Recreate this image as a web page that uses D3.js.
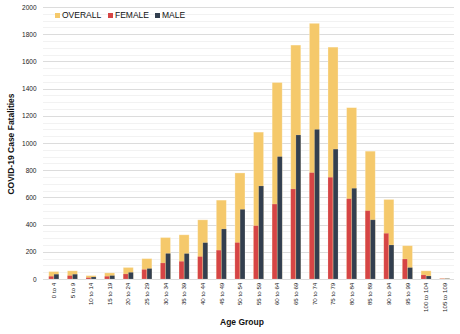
<!DOCTYPE html>
<html>
<head>
<meta charset="utf-8">
<script src="https://cdn.jsdelivr.net/npm/d3@7/dist/d3.min.js"></script>
<style>
  body {
    margin: 0;
    background: #ffffff;
  }

  text {
    font-family: 'Liberation Sans', Arial, sans-serif;
    fill: #111111;
  }

  .grid-major line {
    stroke: #dcdcdc;
    shape-rendering: crispEdges;
  }

  .grid-minor line {
    stroke: #f2f2f2;
    shape-rendering: crispEdges;
  }

  .grid-major path,
  .grid-minor path,
  .axis path,
  .axis line {
    stroke: none;
  }

  .y-axis text {
    font-size: 6.5px;
    fill: #222222;
  }

  .x-axis text {
    font-size: 6.2px;
    fill: #222222;
  }

  .axis-title {
    font-size: 8.5px;
    font-weight: bold;
    text-anchor: middle;
  }

  .legend text {
    font-size: 8.5px;
  }
</style>
</head>
<body>
<svg id="chart" width="460" height="334"></svg>
<script>
  // age groups on the x axis
  const ageGroups = [
    '0 to 4', '5 to 9', '10 to 14', '15 to 19', '20 to 24', '25 to 29',
    '30 to 34', '35 to 39', '40 to 44', '45 to 49', '50 to 54', '55 to 59',
    '60 to 64', '65 to 69', '70 to 74', '75 to 79', '80 to 84', '85 to 89',
    '90 to 94', '95 to 99', '100 to 104', '105 to 109',
  ];

  const overall = [
    55, 60, 25, 45, 85, 150, 305, 325, 435, 580, 780, 1080,
    1445, 1720, 1880, 1705, 1260, 940, 585, 245, 60, 5,
  ];
  const female = [
    20, 25, 10, 20, 37, 70, 118, 130, 165, 212, 268, 392,
    551, 662, 782, 748, 590, 502, 336, 147, 30, 3,
  ];
  const male = [
    35, 35, 15, 25, 49, 77, 188, 187, 267, 368, 512, 684,
    900, 1059, 1100, 955, 667, 435, 250, 84, 22, 3,
  ];

  const yTicks = [0, 200, 400, 600, 800, 1000, 1200, 1400, 1600, 1800, 2000];
  const seriesNames = ['OVERALL', 'FEMALE', 'MALE'];
  const colors = ['#f5c96b', '#d64545', '#333f4f'];

  const svg = d3.select('#chart');
  const margin = { left: 44.5, right: 454, top: 7, bottom: 279 };

  const x0 = d3
    .scaleBand()
    .domain(ageGroups)
    .range([margin.left, margin.right])
    .paddingInner(0.46)
    .paddingOuter(0.23);

  const x1 = d3
    .scaleBand()
    .domain(['FEMALE', 'MALE'])
    .range([0, x0.bandwidth()])
    .paddingInner(0.06);

  const y = d3
    .scaleLinear()
    .domain([0, 2000])
    .range([margin.bottom, margin.top]);
  const z = d3.scaleOrdinal().domain(seriesNames).range(colors);

  const gridW = margin.right - margin.left + 1.5;

  // minor gridlines every 50
  svg
    .append('g')
    .attr('class', 'grid-minor')
    .attr('transform', 'translate(' + (margin.left - 1.5) + ',0)')
    .call(
      d3
        .axisLeft(y)
        .tickValues(d3.range(50, 2001, 50).filter((d) => d % 200 !== 0))
        .tickSize(-gridW)
        .tickFormat('')
    );

  // major gridlines
  svg
    .append('g')
    .attr('class', 'grid-major')
    .attr('transform', 'translate(' + (margin.left - 1.5) + ',0)')
    .call(d3.axisLeft(y).tickValues(yTicks).tickSize(-gridW).tickFormat(''));

  svg
    .append('g')
    .attr('class', 'y-axis axis')
    .attr('transform', 'translate(' + (margin.left - 1.5) + ',0)')
    .call(
      d3
        .axisLeft(y)
        .tickValues(yTicks)
        .tickFormat(d3.format('d'))
        .tickSize(0)
        .tickPadding(6.5)
    );

  const rows = ageGroups.map((g, i) => ({
    group: g,
    overall: overall[i],
    values: [
      { type: 'FEMALE', value: female[i] },
      { type: 'MALE', value: male[i] },
    ],
  }));

  const barG = svg
    .append('g')
    .selectAll('g')
    .data(rows)
    .enter()
    .append('g')
    .attr('transform', (d) => 'translate(' + x0(d.group) + ',0)');

  barG
    .append('rect')
    .attr('x', 0)
    .attr('width', x0.bandwidth())
    .attr('y', (d) => y(d.overall))
    .attr('height', (d) => margin.bottom - y(d.overall))
    .attr('fill', z('OVERALL'))
    .attr('stroke', 'rgba(255,255,255,0.35)')
    .attr('stroke-width', 0.8);

  barG
    .selectAll('.bars')
    .data((d) => d.values)
    .enter()
    .append('rect')
    .attr('class', 'bars')
    .attr('x', (d) => x1(d.type))
    .attr('width', x1.bandwidth())
    .attr('y', (d) => y(d.value))
    .attr('height', (d) => margin.bottom - y(d.value))
    .attr('fill', (d) => z(d.type))
    .attr('stroke', 'rgba(255,255,255,0.25)')
    .attr('stroke-width', 0.6);

  svg
    .append('g')
    .attr('class', 'x-axis axis')
    .attr('transform', 'translate(0,' + margin.bottom + ')')
    .call(d3.axisBottom(x0).tickSize(0).tickPadding(0))
    .selectAll('text')
    .style('text-anchor', 'end')
    .attr('dx', '-0.6em')
    .attr('dy', '0.35em')
    .attr('y', 0)
    .attr('transform', 'rotate(-90)');

  // axis titles
  svg
    .append('text')
    .attr('class', 'axis-title')
    .attr('transform', 'translate(14,144) rotate(-90)')
    .text('COVID-19 Case Fatalities');

  svg
    .append('text')
    .attr('class', 'axis-title')
    .attr('x', 242)
    .attr('y', 325)
    .text('Age Group');

  // legend
  const legendX = [55, 108, 155];
  const legend = svg.append('g').attr('class', 'legend');
  const legenG = legend
    .selectAll('g')
    .data(seriesNames)
    .enter()
    .append('g')
    .attr('transform', (d, i) => 'translate(' + legendX[i] + ',13)');

  legenG
    .append('rect')
    .attr('width', 5)
    .attr('height', 5)
    .attr('fill', z);

  legenG
    .append('text')
    .attr('x', 7)
    .attr('y', 2.5)
    .attr('dy', '0.35em')
    .text((d) => d);
</script>
</body>
</html>
